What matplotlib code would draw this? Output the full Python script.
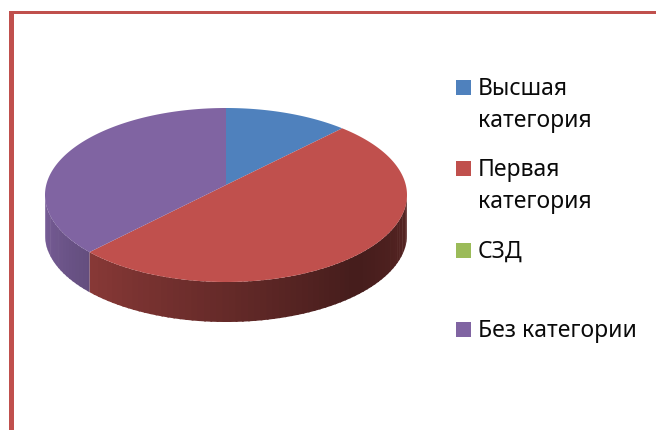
import numpy as np
import matplotlib
matplotlib.use('Agg')
from matplotlib import pyplot as plt
from matplotlib.patches import Rectangle

categories = ['Высшая\nкатегория', 'Первая\nкатегория', 'СЗД', 'Без категории']
values = [11.1, 52.5, 0.0, 36.4]
colors = ['#4f81bd', '#c0504d', '#9bbb59', '#8064a2']

W, H = 656, 430
cx, cy = 226, 195
rx, ry = 181, 87
depth = 40 / ry
apex = 10 / ry  # the slices meet a bit above the middle of the ellipse

plt.rcParams['font.family'] = ['Noto Sans', 'DejaVu Sans']

fig = plt.figure(figsize=(W / 100, H / 100), dpi=100)
ax = fig.add_axes([0, 0, 1, 1])


# side of the pie, drawn in thin strips so the shading looks like a gradient
def shade(angle):
    # angle in degrees, 180 = left edge, 270 = front, 360 = right edge
    t = (angle - 180) / 180
    if t < 0.75:
        return 0.86 - 0.50 * t / 0.75
    return 0.36 + 0.10 * (t - 0.75) / 0.25


start = 90
for value, color in zip(values, colors):
    sweep = value / sum(values) * 360
    a0, a1 = start - sweep, start
    start = a0
    if sweep == 0:
        continue
    rgb = np.array(matplotlib.colors.to_rgb(color))

    # only the front half can be seen
    for lo, hi in [(a0, a1), (a0 + 360, a1 + 360)]:
        lo, hi = max(lo, 180), min(hi, 360)
        if hi <= lo:
            continue
        steps = np.arange(lo, hi, 2.0).tolist() + [hi]
        for s0, s1 in zip(steps[:-1], steps[1:]):
            th = np.radians(np.linspace(s0, min(s1 + 0.6, hi), 5))
            xs = np.cos(th)
            ys = np.sin(th)
            f = shade((s0 + s1) / 2)
            if color == '#8064a2':
                f = 0.95 - 0.17 * (s0 - 180) / 40
            ax.fill(np.r_[xs, xs[::-1]], np.r_[ys, ys[::-1] - depth],
                    color=rgb * f, lw=0)

    # top face
    th = np.radians(np.linspace(a0, a1, 200))
    ax.fill(np.r_[0, np.cos(th)], np.r_[apex, np.sin(th)], color=color, lw=0)

ax.set_xlim(-cx / rx, (W - cx) / rx)
ax.set_ylim(-(H - cy) / ry, cy / ry)
ax.axis('off')

# red frame of the chart area
fig.add_artist(Rectangle((9 / W, 0), 5 / W, 1 - 11 / H, transform=fig.transFigure,
                         color='#c0504d', lw=0))
fig.add_artist(Rectangle((9 / W, 1 - 14 / H), 1, 3 / H, transform=fig.transFigure,
                         color='#c0504d', lw=0))

# legend
legend_y = [87, 168, 250, 329]
for label, color, y in zip(categories, colors, legend_y):
    fig.add_artist(Rectangle((456 / W, 1 - (y + 8) / H), 15 / W, 15 / H,
                             transform=fig.transFigure, color=color, lw=0))
    fig.text(478 / W, 1 - (y - 10) / H, label, fontsize=16.5, va='top', ha='left',
             color='#0a0a0a', linespacing=1.42)

fig.savefig('out.png', dpi=100)
